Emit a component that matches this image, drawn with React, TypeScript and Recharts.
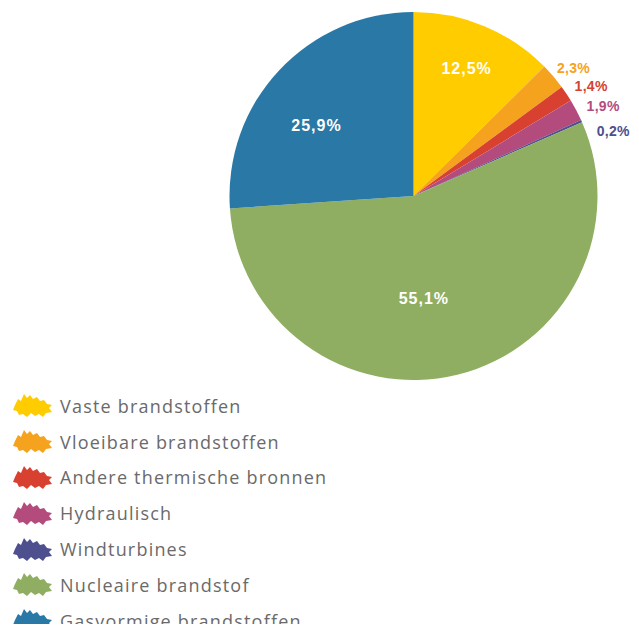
import { PieChart, Pie, Cell } from 'recharts'

const categories = [
  'Vaste brandstoffen',
  'Vloeibare brandstoffen',
  'Andere thermische bronnen',
  'Hydraulisch',
  'Windturbines',
  'Nucleaire brandstof',
  'Gasvormige brandstoffen',
]
const shares = [12.5, 2.3, 1.4, 1.9, 0.2, 55.1, 25.9]
const shareLabels = ['12,5%', '2,3%', '1,4%', '1,9%', '0,2%', '55,1%', '25,9%']

const colors = ['#ffcc00', '#f5a21e', '#d8412f', '#b44b7d', '#4d4f8e', '#8fae62', '#2a78a6']
// label placement per slice: distance from centre, angle nudge, inside or not
const labelRadius = [138, 205, 209, 210, 210, 103, 120]
const labelShift = [0, -1.8, -2, -2.4, -6, -8, 7]
const labelInside = [true, false, false, false, false, true, true]

const data = categories.map((name, i) => ({ name, value: shares[i], label: shareLabels[i] }))

const RAD = Math.PI / 180

function renderLabel(props: any) {
  const { cx, cy, midAngle, index } = props
  const a = (midAngle + labelShift[index]) * RAD
  const r = labelRadius[index]
  const x = cx + r * Math.cos(a)
  const y = cy - r * Math.sin(a)
  const inside = labelInside[index]
  return (
    <text
      x={x}
      y={y}
      textAnchor="middle"
      dominantBaseline="central"
      fill={inside ? '#ffffff' : colors[index]}
      fontSize={inside ? 16 : 14}
      fontWeight="bold"
      letterSpacing={inside ? 1 : 0.3}
      fontFamily="'Liberation Sans', Arial, sans-serif"
    >
      {shareLabels[index]}
    </text>
  )
}

const blob =
  'M2 12 L5 6 L8 8 L11 1 L14 5 L17 2 L20 6 L24 4 L27 8 L31 7 L34 11 L39 12 L36 15 L39 19 L33 20 L30 24 L26 21 L22 23 L18 20 L14 24 L10 21 L6 22 L4 18 L0 17 Z'

export default function App() {
  return (
    <div style={{ position: 'relative', width: 623, height: 616 }}>
      <PieChart width={623} height={616} margin={{ top: 0, right: 0, bottom: 0, left: 0 }}>
        <Pie
          data={data}
          dataKey="value"
          cx={405.5}
          cy={188}
          outerRadius={184}
          startAngle={90}
          endAngle={-270}
          stroke="none"
          label={renderLabel}
          labelLine={false}
          isAnimationActive={false}
        >
          {data.map((d, i) => (
            <Cell key={d.name} fill={colors[i]} />
          ))}
        </Pie>
      </PieChart>
      <div style={{ position: 'absolute', left: 5, top: 380 }}>
        {categories.map((name, i) => (
          <div key={name} style={{ display: 'flex', alignItems: 'center', height: 35.8 }}>
            <svg width={40} height={25} style={{ marginRight: 7 }}>
              <path d={blob} fill={colors[i]} />
            </svg>
            <span
              style={{
                fontFamily: "'Open Sans', sans-serif",
                fontSize: 18,
                letterSpacing: 1.2,
                color: '#6a6a6a',
                lineHeight: '20px',
              }}
            >
              {name}
            </span>
          </div>
        ))}
      </div>
    </div>
  )
}
